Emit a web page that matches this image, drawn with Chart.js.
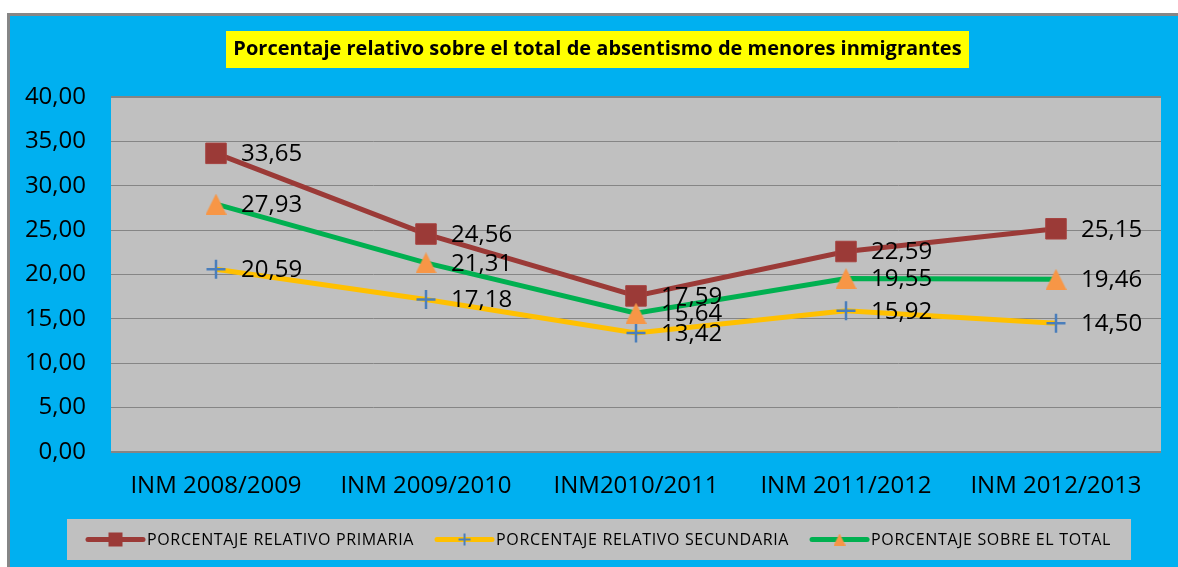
<!DOCTYPE html>
<html>
<head>
<meta charset="utf-8">
<script src="https://cdn.jsdelivr.net/npm/chart.js@4/dist/chart.umd.min.js"></script>
<style>
  html, body { margin: 0; padding: 0; background: #fff; }
  canvas { display: block; }
</style>
</head>
<body>
<canvas id="grafica" width="1178" height="567"></canvas>
<script>
var titulo = 'Porcentaje relativo sobre el total de absentismo de menores inmigrantes';
var cursos = ['INM 2008/2009', 'INM 2009/2010', 'INM2010/2011', 'INM 2011/2012', 'INM 2012/2013'];
var primaria = [33.65, 24.56, 17.59, 22.59, 25.15];
var secundaria = [20.59, 17.18, 13.42, 15.92, 14.50];
var total = [27.93, 21.31, 15.64, 19.55, 19.46];
var nombres = ['PORCENTAJE RELATIVO PRIMARIA', 'PORCENTAJE RELATIVO SECUNDARIA', 'PORCENTAJE SOBRE EL TOTAL'];

var fuente = '"Open Sans", "Noto Sans", sans-serif';

function coma(v) {
    return Number(v).toFixed(2).replace('.', ',');
}

// triangulo naranja como imagen, asi queda centrado sobre el punto
function triangulo(w, h) {
    var c = document.createElement('canvas');
    c.width = w;
    c.height = h;
    var g = c.getContext('2d');
    g.fillStyle = '#F79646';
    g.beginPath();
    g.moveTo(w / 2, 0);
    g.lineTo(w, h);
    g.lineTo(0, h);
    g.closePath();
    g.fill();
    return c;
}
var triGrande = triangulo(21, 21);
var triChico = triangulo(12, 12);

// fondo azul, area gris y titulo amarillo
var fondo = {
    id: 'fondo',
    beforeDraw: function (chart) {
        var ctx = chart.ctx, W = chart.width, H = chart.height, a = chart.chartArea;
        ctx.save();
        ctx.fillStyle = '#fff';
        ctx.fillRect(0, 0, W, H);
        ctx.fillStyle = '#868686';
        ctx.fillRect(7, 13, W - 7, H - 13);
        ctx.fillStyle = '#00B0F0';
        ctx.fillRect(10, 16, W - 10, H - 16);
        ctx.fillStyle = '#C0C0C0';
        ctx.fillRect(a.left, a.top, a.right - a.left, a.bottom - a.top);

        ctx.fillStyle = '#FFFF00';
        ctx.fillRect(226, 31, 743, 37);
        ctx.font = 'bold 20px ' + fuente;
        ctx.fillStyle = '#000';
        ctx.textAlign = 'center';
        ctx.textBaseline = 'middle';
        var ancho = ctx.measureText(titulo).width;
        var k = Math.min(1, 729 / ancho);
        ctx.translate(597.5, 49.5);
        ctx.scale(k, 1);
        ctx.fillText(titulo, 0, 0);
        ctx.restore();
    }
};

// valores al lado de cada punto
var etiquetas = {
    id: 'etiquetas',
    afterDatasetsDraw: function (chart) {
        var ctx = chart.ctx;
        ctx.save();
        ctx.font = '24px ' + fuente;
        ctx.fillStyle = '#000';
        ctx.textAlign = 'left';
        ctx.textBaseline = 'middle';
        chart.data.datasets.forEach(function (ds, i) {
            var meta = chart.getDatasetMeta(i);
            meta.data.forEach(function (p, j) {
                ctx.fillText(coma(ds.data[j]), p.x + 25, p.y + 1);
            });
        });
        ctx.restore();
    }
};

// leyenda tipo excel: linea con marcador
var leyenda = {
    id: 'leyenda',
    afterDraw: function (chart) {
        var ctx = chart.ctx;
        ctx.save();
        ctx.fillStyle = '#C0C0C0';
        ctx.fillRect(67, 519, 1064, 41);
        var x = 88, cy = 539.5;
        ctx.font = '16px ' + fuente;
        ctx.letterSpacing = '0.65px';
        ctx.textBaseline = 'middle';
        chart.data.datasets.forEach(function (ds, i) {
            ctx.strokeStyle = ds.borderColor;
            ctx.lineWidth = 5;
            ctx.lineCap = 'round';
            ctx.beginPath();
            ctx.moveTo(x, cy);
            ctx.lineTo(x + 55, cy);
            ctx.stroke();
            var mx = x + 27.5;
            if (i === 0) {
                ctx.fillStyle = ds.pointBackgroundColor;
                ctx.fillRect(mx - 7, cy - 7, 14, 14);
            } else if (i === 1) {
                ctx.strokeStyle = ds.pointBorderColor;
                ctx.lineWidth = 2;
                ctx.lineCap = 'butt';
                ctx.beginPath();
                ctx.moveTo(mx - 6, cy);
                ctx.lineTo(mx + 6, cy);
                ctx.moveTo(mx, cy - 6);
                ctx.lineTo(mx, cy + 6);
                ctx.stroke();
            } else {
                ctx.drawImage(triChico, mx - 6, cy - 6);
            }
            ctx.fillStyle = '#000';
            ctx.fillText(nombres[i], x + 59, cy + 1);
            x += 59 + ctx.measureText(nombres[i]).width + 23;
        });
        ctx.restore();
    }
};

var chart = new Chart(document.getElementById('grafica').getContext('2d'), {
    type: 'line',
    data: {
        labels: cursos,
        datasets: [{
            label: nombres[0],
            data: primaria,
            borderColor: '#9B3A37',
            borderWidth: 5,
            pointStyle: 'rect',
            pointRadius: 14.5,
            pointBackgroundColor: '#9B3A37',
            pointBorderColor: '#A5423F',
            pointBorderWidth: 1,
            order: 3
        }, {
            label: nombres[1],
            data: secundaria,
            borderColor: '#FFC000',
            borderWidth: 5,
            pointStyle: 'cross',
            pointRadius: 9.5,
            pointBorderColor: '#4A7EBB',
            pointBorderWidth: 2.5,
            order: 2
        }, {
            label: nombres[2],
            data: total,
            borderColor: '#00B050',
            borderWidth: 5,
            pointStyle: triGrande,
            pointRadius: 11,
            order: 1
        }]
    },
    options: {
        responsive: false,
        devicePixelRatio: 1,
        animation: false,
        layout: {
            padding: { top: 97, right: 17, left: 0, bottom: 0 }
        },
        elements: {
            line: { tension: 0 }
        },
        scales: {
            x: {
                offset: true,
                grid: { display: false, drawTicks: false },
                border: { display: false },
                ticks: {
                    color: '#000',
                    padding: 20,
                    maxRotation: 0,
                    font: { family: fuente, size: 24 }
                },
                afterFit: function (scale) { scale.height = 115; }
            },
            y: {
                min: 0,
                max: 40,
                grid: {
                    color: '#858585',
                    drawTicks: false,
                    lineWidth: function (c) { return (c.index === 0 || c.index === 8) ? 2 : 1; }
                },
                border: { display: false },
                ticks: {
                    stepSize: 5,
                    color: '#000',
                    padding: 25,
                    font: { family: fuente, size: 24 },
                    callback: function (v) { return coma(v); }
                },
                afterFit: function (scale) { scale.width = 111; }
            }
        },
        plugins: {
            legend: { display: false },
            tooltip: { enabled: false },
            title: { display: false }
        }
    },
    plugins: [fondo, etiquetas, leyenda]
});
</script>
</body>
</html>
